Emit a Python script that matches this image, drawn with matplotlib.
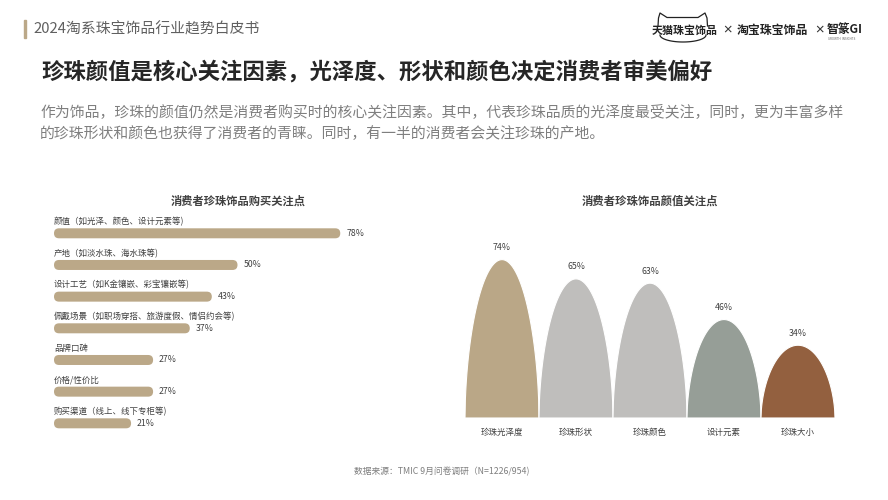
import numpy as np
import matplotlib
matplotlib.use("Agg")
import matplotlib.pyplot as plt
from matplotlib.patches import FancyBboxPatch, Rectangle

plt.rcParams['font.family'] = ['Noto Sans CJK SC', 'DejaVu Sans']

# left chart data
buy_labels = ["颜值（如光泽、颜色、设计元素等)", "产地（如淡水珠、海水珠等)",
              "设计工艺（如K金镶嵌、彩宝镶嵌等)", "佩戴场景（如职场穿搭、旅游度假、情侣约会等)",
              "品牌口碑", "价格/性价比", "购买渠道（线上、线下专柜等)"]
buy_values = [78, 50, 43, 37, 27, 27, 21]

# right chart data
look_labels = ["珍珠光泽度", "珍珠形状", "珍珠颜色", "设计元素", "珍珠大小"]
look_values = [74, 65, 63, 46, 34]
look_colors = ["#BAA787", "#BFBEBC", "#BFBEBC", "#969E97", "#93603F"]

W, H = 888, 500
fig = plt.figure(figsize=(W / 100, H / 100), dpi=100)
fig.patch.set_facecolor("white")


def fx(px):
    return px / W


def fy(py):
    return 1 - py / H


# header
fig.patches.append(Rectangle((fx(24), fy(38)), fx(2), 18 / H, color="#BBA888",
                             transform=fig.transFigure, figure=fig))
fig.text(fx(33), fy(29), "2024淘系珠宝饰品行业趋势白皮书", fontsize=10.7, color="#606060", va="center")

# logos
fig.text(fx(652), fy(30), "天猫珠宝饰品", fontsize=7.9, fontweight="bold", color="#222222", va="center")
fig.text(fx(722), fy(30), "×", fontsize=7.5, fontweight="bold", color="#333333", va="center")
fig.text(fx(737), fy(30), "淘宝珠宝饰品", fontsize=8.6, fontweight="bold", color="#222222", va="center")
fig.text(fx(814), fy(30), "×", fontsize=7.5, fontweight="bold", color="#333333", va="center")
fig.text(fx(827), fy(29), "智篆GI", fontsize=8.5, fontweight="bold", color="#222222", va="center")
fig.text(fx(828), fy(39.5), "GROWTH  INSIGHTS", fontsize=2.2, color="#666666", va="center")
# cat head outline, in pixel units of the header
logo_ax = fig.add_axes([fx(645), fy(48), fx(85), 40 / H])
logo_ax.set_xlim(645, 730)
logo_ax.set_ylim(48, 8)
logo_ax.axis("off")
head_x = [658, 658.5, 660, 667, 698, 705, 707, 707.5]
head_y = [26, 18, 13, 17.5, 17.5, 13, 18, 26]
logo_ax.plot(head_x, head_y, color="#222222", lw=0.9, solid_joinstyle="round")
t = np.linspace(0, np.pi, 50)
logo_ax.plot(683 + 23 * np.cos(t), 35 + 7 * np.sin(t), color="#222222", lw=0.9)

# title and intro
fig.text(fx(41), fy(72), "珍珠颜值是核心关注因素，光泽度、形状和颜色决定消费者审美偏好",
         fontsize=16.1, fontweight="bold", color="#262626", va="center")
fig.text(fx(40), fy(112), "作为饰品，珍珠的颜值仍然是消费者购买时的核心关注因素。其中，代表珍珠品质的光泽度最受关注，同时，更为丰富多样",
         fontsize=10.7, color="#7F7F7F", va="center")
fig.text(fx(40), fy(134), "的珍珠形状和颜色也获得了消费者的青睐。同时，有一半的消费者会关注珍珠的产地。",
         fontsize=10.7, color="#7F7F7F", va="center")

# left chart
fig.text(fx(238), fy(201), "消费者珍珠饰品购买关注点", fontsize=8.1, fontweight="bold",
         color="#404040", ha="center", va="center")
row0, row_step = 233.3, 31.67
n = len(buy_values)
ax1 = fig.add_axes([fx(54), fy(row0 + (n - 0.5) * row_step), fx(367), n * row_step / H])
ax1.set_xlim(0, 100)
ax1.set_ylim(n - 0.5, -0.5)
ax1.axis("off")
px_x = 367 / 100
px_y = row_step
bar_h = 10 / px_y
r = 5 / px_x
for i, (lab, v) in enumerate(zip(buy_labels, buy_values)):
    box = FancyBboxPatch((0, i - bar_h / 2), v, bar_h,
                         boxstyle=f"round,pad=0,rounding_size={r}",
                         mutation_aspect=px_x / px_y, fc="#BBA888", ec="none")
    ax1.add_patch(box)
    ax1.text(v + 6 / px_x, i, f"{v}%", fontsize=6.3, color="#404040", va="center")
    ax1.text(0, i - 11.7 / px_y, lab, fontsize=6.1, color="#404040", va="center")

# right chart
fig.text(fx(650), fy(201), "消费者珍珠饰品颜值关注点", fontsize=8.2, fontweight="bold",
         color="#404040", ha="center", va="center")
base_px, top_px = 418, 204
ax2 = fig.add_axes([fx(465), fy(base_px), fx(370), (base_px - top_px) / H])
ax2.set_xlim(0, len(look_values))
ax2.set_ylim(0, 100)
ax2.axis("off")
tt = np.linspace(-1, 1, 200)
for i, (lab, v, c) in enumerate(zip(look_labels, look_values, look_colors)):
    xs = i + 0.5 + 0.5 * tt
    ys = v * np.clip(1 - tt ** 2, 0, None) ** 0.55
    ax2.fill(xs, ys, color=c, ec="white", lw=0.8)
    ax2.text(i + 0.5, v + 12 / 2.14, f"{v}%", fontsize=6.3, color="#404040", ha="center", va="center")
    ax2.text(i + 0.5, -14 / 2.14, lab, fontsize=6.1, color="#404040", ha="center", va="center", clip_on=False)
ax2.axhline(0, color="#D9D9D9", lw=0.8)

# footer
fig.text(fx(442), fy(471), "数据来源：TMIC 9月问卷调研（N=1226/954)", fontsize=6.3, color="#7F7F7F",
         ha="center", va="center")

fig.savefig("out.png", dpi=100)
